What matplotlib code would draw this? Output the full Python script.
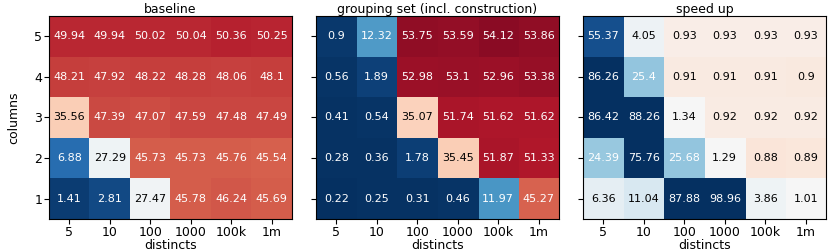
import numpy as np
import matplotlib
matplotlib.use("Agg")
import matplotlib.pyplot as plt
from matplotlib.colors import Normalize, TwoSlopeNorm

# data: rows are "columns" 1..5, cols are distincts
distincts = ["5", "10", "100", "1000", "100k", "1m"]
columns = ["1", "2", "3", "4", "5"]

baseline = [
    [1.41, 2.81, 27.47, 45.78, 46.24, 45.69],
    [6.88, 27.29, 45.73, 45.73, 45.76, 45.54],
    [35.56, 47.39, 47.07, 47.59, 47.48, 47.49],
    [48.21, 47.92, 48.22, 48.28, 48.06, 48.1],
    [49.94, 49.94, 50.02, 50.04, 50.36, 50.25],
]
grouping = [
    [0.22, 0.25, 0.31, 0.46, 11.97, 45.27],
    [0.28, 0.36, 1.78, 35.45, 51.87, 51.33],
    [0.41, 0.54, 35.07, 51.74, 51.62, 51.62],
    [0.56, 1.89, 52.98, 53.1, 52.96, 53.38],
    [0.9, 12.32, 53.75, 53.59, 54.12, 53.86],
]
speedup = [
    [6.36, 11.04, 87.88, 98.96, 3.86, 1.01],
    [24.39, 75.76, 25.68, 1.29, 0.88, 0.89],
    [86.42, 88.26, 1.34, 0.92, 0.92, 0.92],
    [86.26, 25.4, 0.91, 0.91, 0.91, 0.9],
    [55.37, 4.05, 0.93, 0.93, 0.93, 0.93],
]

panels = [
    ("baseline", baseline, "RdBu_r", Normalize(vmin=0, vmax=57)),
    ("grouping set (incl. construction)", grouping, "RdBu_r", Normalize(vmin=0, vmax=57)),
    ("speed up", speedup, "RdBu", TwoSlopeNorm(vmin=0, vcenter=1, vmax=63)),
]

fig = plt.figure(figsize=(8.3, 2.52), dpi=100)
lefts = [49 / 830, 316 / 830, 583 / 830]
w, h = 243 / 830, 203 / 252
bottom = 33 / 252

for i, (title, vals, cmap, norm) in enumerate(panels):
    ax = fig.add_axes([lefts[i], bottom, w, h])
    data = np.array(vals)
    ax.imshow(data, cmap=cmap, norm=norm, origin="lower", aspect="auto")
    for r in range(data.shape[0]):
        for c in range(data.shape[1]):
            nv = float(norm(data[r, c]))
            color = "white" if abs(nv - 0.5) > 0.15 else "black"
            ax.text(c, r, str(vals[r][c]), ha="center", va="center",
                    color=color, fontsize=8)
    ax.set_xticks(range(len(distincts)))
    ax.set_xticklabels(distincts, fontsize=9)
    ax.set_yticks(range(len(columns)))
    if i == 0:
        ax.set_yticklabels(columns, fontsize=9)
        ax.set_ylabel("columns", fontsize=9, labelpad=10)
    else:
        ax.set_yticklabels([])
    ax.tick_params(length=3.5, pad=1.5)
    ax.set_xlabel("distincts", fontsize=9, labelpad=0)
    ax.set_title(title, fontsize=9, pad=2)

fig.savefig("out.png", dpi=100)
